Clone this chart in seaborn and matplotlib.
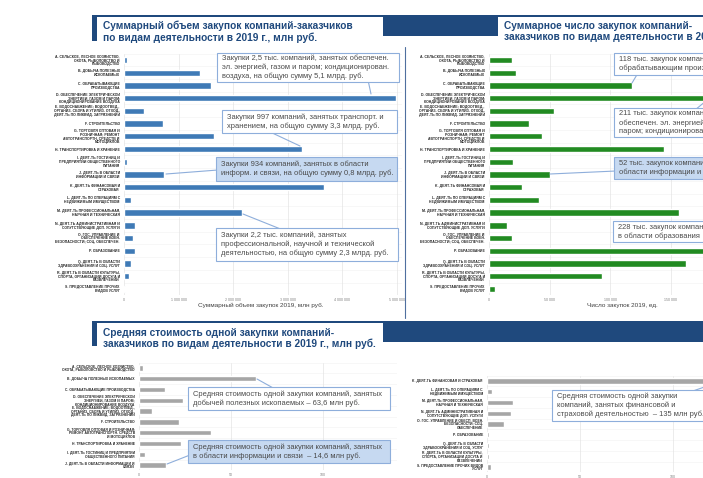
import matplotlib
matplotlib.use("Agg")
import matplotlib.pyplot as plt
import seaborn as sns
import pandas as pd
from matplotlib.patches import Rectangle
from matplotlib.lines import Line2D

# ---------------- data ----------------
codes = list("ABCDEFGHIJKLMNOPQRS")
labels_top = [
    "A. СЕЛЬСКОЕ, ЛЕСНОЕ ХОЗЯЙСТВО,\nОХОТА, РЫБОЛОВСТВО И\nРЫБОВОДСТВО",
    "B. ДОБЫЧА ПОЛЕЗНЫХ\nИСКОПАЕМЫХ",
    "C. ОБРАБАТЫВАЮЩИЕ\nПРОИЗВОДСТВА",
    "D. ОБЕСПЕЧЕНИЕ ЭЛЕКТРИЧЕСКОЙ\nЭНЕРГИЕЙ, ГАЗОМ И ПАРОМ;\nКОНДИЦИОНИРОВАНИЕ ВОЗДУХА",
    "E. ВОДОСНАБЖЕНИЕ; ВОДООТВЕД.,\nОРГАНИЗ. СБОРА И УТИЛИЗ. ОТХОД.,\nДЕЯТ-ТЬ ПО ЛИКВИД. ЗАГРЯЗНЕНИЙ",
    "F. СТРОИТЕЛЬСТВО",
    "G. ТОРГОВЛЯ ОПТОВАЯ И\nРОЗНИЧНАЯ; РЕМОНТ\nАВТОТРАНСПОРТН. СРЕДСТВ И\nМОТОЦИКЛОВ",
    "H. ТРАНСПОРТИРОВКА И ХРАНЕНИЕ",
    "I. ДЕЯТ-ТЬ ГОСТИНИЦ И\nПРЕДПРИЯТИЙ ОБЩЕСТВЕННОГО\nПИТАНИЯ",
    "J. ДЕЯТ-ТЬ В ОБЛАСТИ\nИНФОРМАЦИИ И СВЯЗИ",
    "K. ДЕЯТ-ТЬ ФИНАНСОВАЯ И\nСТРАХОВАЯ",
    "L. ДЕЯТ-ТЬ ПО ОПЕРАЦИЯМ С\nНЕДВИЖИМЫМ ИМУЩЕСТВОМ",
    "M. ДЕЯТ-ТЬ ПРОФЕССИОНАЛЬНАЯ,\nНАУЧНАЯ И ТЕХНИЧЕСКАЯ",
    "N. ДЕЯТ-ТЬ АДМИНИСТРАТИВНАЯ И\nСОПУТСТВУЮЩИЕ ДОП. УСЛУГИ",
    "O. ГОС. УПРАВЛЕНИЕ И\nОБЕСПЕЧЕНИЕ ВОЕН.\nБЕЗОПАСНОСТИ; СОЦ. ОБЕСПЕЧЕН.",
    "P. ОБРАЗОВАНИЕ",
    "Q. ДЕЯТ-ТЬ В ОБЛАСТИ\nЗДРАВООХРАНЕНИЯ И СОЦ. УСЛУГ",
    "R. ДЕЯТ-ТЬ В ОБЛАСТИ КУЛЬТУРЫ,\nСПОРТА, ОРГАНИЗАЦИИ ДОСУГА И\nРАЗВЛЕЧЕНИЙ",
    "S. ПРЕДОСТАВЛЕНИЕ ПРОЧИХ\nВИДОВ УСЛУГ",
]
labels_bottom = [
    "A. СЕЛЬСКОЕ, ЛЕСНОЕ ХОЗЯЙСТВО,\nОХОТА, РЫБОЛОВСТВО И РЫБОВОДСТВО",
    "B. ДОБЫЧА ПОЛЕЗНЫХ ИСКОПАЕМЫХ",
    "C. ОБРАБАТЫВАЮЩИЕ ПРОИЗВОДСТВА",
    "D. ОБЕСПЕЧЕНИЕ ЭЛЕКТРИЧЕСКОЙ\nЭНЕРГИЕЙ, ГАЗОМ И ПАРОМ;\nКОНДИЦИОНИРОВАНИЕ ВОЗДУХА",
    "E. ВОДОСНАБЖЕНИЕ; ВОДООТВЕД.,\nОРГАНИЗ. СБОРА И УТИЛИЗ. ОТХОД.,\nДЕЯТ-ТЬ ПО ЛИКВИД. ЗАГРЯЗНЕНИЙ",
    "F. СТРОИТЕЛЬСТВО",
    "G. ТОРГОВЛЯ ОПТОВАЯ И РОЗНИЧНАЯ;\nРЕМОНТ АВТОТРАНСПОРТН. СРЕДСТВ\nИ МОТОЦИКЛОВ",
    "H. ТРАНСПОРТИРОВКА И ХРАНЕНИЕ",
    "I. ДЕЯТ-ТЬ ГОСТИНИЦ И ПРЕДПРИЯТИЙ\nОБЩЕСТВЕННОГО ПИТАНИЯ",
    "J. ДЕЯТ-ТЬ В ОБЛАСТИ ИНФОРМАЦИИ И\nСВЯЗИ",
    "K. ДЕЯТ-ТЬ ФИНАНСОВАЯ И СТРАХОВАЯ",
    "L. ДЕЯТ-ТЬ ПО ОПЕРАЦИЯМ С\nНЕДВИЖИМЫМ ИМУЩЕСТВОМ",
    "M. ДЕЯТ-ТЬ ПРОФЕССИОНАЛЬНАЯ,\nНАУЧНАЯ И ТЕХНИЧЕСКАЯ",
    "N. ДЕЯТ-ТЬ АДМИНИСТРАТИВНАЯ И\nСОПУТСТВУЮЩИЕ ДОП. УСЛУГИ",
    "O. ГОС. УПРАВЛЕНИЕ И ОБЕСП. ВОЕН.\nБЕЗОПАСНОСТИ; СОЦ.\nОБЕСПЕЧЕНИЕ",
    "P. ОБРАЗОВАНИЕ",
    "Q. ДЕЯТ-ТЬ В ОБЛАСТИ\nЗДРАВООХРАНЕНИЯ И СОЦ. УСЛУГ",
    "R. ДЕЯТ-ТЬ В ОБЛАСТИ КУЛЬТУРЫ,\nСПОРТА, ОРГАНИЗАЦИИ ДОСУГА И\nРАЗВЛЕЧЕНИЙ",
    "S. ПРЕДОСТАВЛЕНИЕ ПРОЧИХ ВИДОВ\nУСЛУГ",
]
# Total procurement volume 2019, mln rub
volume = [50000, 1390000, 1600000, 4980000, 370000, 710000, 1640000, 3260000, 60000,
          730000, 3660000, 120000, 2160000, 200000, 170000, 210000, 130000, 90000, 20000]
# Number of procurements 2019
count = [19000, 22000, 118000, 211000, 54000, 33000, 44000, 145000, 20000,
         50000, 27000, 41000, 157000, 15000, 19000, 228000, 163000, 93000, 5000]
# Average cost of one procurement, mln rub
avg_cost = [2.3, 63.6, 14, 24, 7, 22, 39, 23, 3, 14.6,
            135, 2.7, 14, 13, 9, 1, 1, 1, 2]

vol_ticks = [0, 1000000, 2000000, 3000000, 4000000, 5000000]
vol_ticklabels = ["0", "1 000 000", "2 000 000", "3 000 000", "4 000 000", "5 000 000"]
cnt_ticks = [0, 50000, 100000, 150000]
cnt_ticklabels = ["0", "50 000", "100 000", "150 000"]
avg_ticks = [0, 50, 100]
avg_ticklabels = ["0", "50", "100"]

# ---------------- style ----------------
sns.set_style("white")
plt.rcParams["font.family"] = ["Liberation Sans", "DejaVu Sans"]

W, H = 703, 478
fig = plt.figure(figsize=(W / 100, H / 100), dpi=100)
fig.patch.set_facecolor("white")

NAVY = "#1f497d"
BLUE = "#3f7ab6"
GREEN = "#228b22"
GRAY = "#a6a6a6"
BOX_EDGE = "#8eaedb"
BOX_FILL = "#c6d9f1"
TXT = "#4a4a4a"


def add_ax(x0, x1, ytop, ybot):
    return fig.add_axes([x0 / W, 1 - ybot / H, (x1 - x0) / W, (ybot - ytop) / H])


def rect(x0, y0, x1, y1, fc, ec="none", lw=0.0, z=1):
    fig.patches.append(Rectangle((x0 / W, 1 - y1 / H), (x1 - x0) / W, (y1 - y0) / H,
                                 transform=fig.transFigure, facecolor=fc, edgecolor=ec,
                                 linewidth=lw, zorder=z))


def line(p, q, color=BOX_EDGE, lw=0.8, z=0.5):
    fig.lines.append(Line2D([p[0] / W, q[0] / W], [1 - p[1] / H, 1 - q[1] / H],
                            transform=fig.transFigure, color=color, lw=lw, zorder=z))


def ftext(x, y, s, **kw):
    fig.text(x / W, 1 - y / H, s, **kw)


def panel(ax, values, labels, color, xlim, ticks, ticklabels, xlabel=None, lab_x=0.5,
          lab_fs=2.5):
    df = pd.DataFrame({"label": labels, "value": values})
    sns.barplot(data=df, x="value", y="label", orient="h", color=color, width=0.5,
                saturation=1, ax=ax)
    ax.set_xlim(*xlim)
    ax.set_ylim(len(values) - 0.5, -0.5)
    ax.set_xticks(ticks)
    ax.set_xticklabels(ticklabels, fontsize=2.6, color="#7f7f7f")
    ax.tick_params(axis="x", length=0, pad=2)
    ax.tick_params(axis="y", length=0, pad=3)
    for t in ax.get_yticklabels():
        t.set_fontsize(lab_fs)
        t.set_fontweight("bold")
        t.set_color("#262626")
        t.set_linespacing(0.95)
    ax.set_ylabel("")
    if xlabel:
        ax.set_xlabel(xlabel, fontsize=4.6, color="#404040", labelpad=1)
        ax.xaxis.set_label_coords(lab_x, -0.03)
    else:
        ax.set_xlabel("")
    ax.grid(axis="x", color="#e4e4e4", lw=0.5)
    for s in ax.spines.values():
        s.set_visible(False)
    ax.set_axisbelow(True)
    for yy in range(len(values) + 1):
        ax.axhline(yy - 0.5, color="#f2f2f2", lw=0.4, zorder=0)


# ---------------- panels ----------------
ax1 = add_ax(124, 124 + 5.1 * 54.6, 53.6, 295.3)
panel(ax1, volume, labels_top, BLUE, (0, 5100000), vol_ticks, vol_ticklabels,
      "Суммарный объем закупок 2019, млн руб.", 0.49)

ax2 = add_ax(489, 489 + 250 * 1.21, 53.6, 295.3)
panel(ax2, count, labels_top, GREEN, (0, 250000), cnt_ticks, cnt_ticklabels,
      "Число закупок 2019, ед.", 0.44)

ax3 = add_ax(139, 139 + 140 * 1.84, 362.6, 470.4)
panel(ax3, avg_cost[:10], labels_bottom[:10], GRAY, (0, 140), avg_ticks,
      avg_ticklabels, lab_fs=2.4)

ax4 = add_ax(487, 487 + 140 * 1.86, 375.6, 472.4)
panel(ax4, avg_cost[10:], labels_bottom[10:], GRAY, (0, 140), avg_ticks,
      avg_ticklabels, lab_fs=2.4)

# ---------------- banners ----------------
TITLE_KW = dict(fontsize=7.3, fontweight="bold", color=NAVY, va="center", ha="left",
                linespacing=1.12, zorder=3)
# top band
rect(92, 15, 703, 36, NAVY)
rect(92, 15, 97, 41, NAVY)
rect(97, 17, 383, 45, "white")
rect(498, 17, 703, 45, "white")
ftext(103, 31.5, "Суммарный объем закупок компаний-заказчиков\nпо видам деятельности в 2019 г., млн руб.", **TITLE_KW)
ftext(504, 31.5, "Суммарное число закупок компаний-\nзаказчиков по видам деятельности в 2019 г., ед.", **TITLE_KW)
# bottom band
rect(92, 321, 703, 342, NAVY)
rect(92, 321, 97, 346, NAVY)
rect(97, 323, 383, 352, "white")
ftext(103, 338.5, "Средняя стоимость одной закупки компаний-\nзаказчиков по видам деятельности в 2019 г., млн руб.", **TITLE_KW)

# separator
line((405, 47), (405, 318), color="#4f6f9f", lw=0.8, z=2)

# ---------------- callouts ----------------
NOTE_KW = dict(fontsize=5.45, color=TXT, va="center", ha="left", linespacing=1.3, zorder=3)


def callout(x0, y0, x1, y1, text, filled=False, tail=None):
    if tail is not None:
        line(tail[0], tail[1])
    rect(x0, y0, x1, y1, BOX_FILL if filled else "white", ec=BOX_EDGE, lw=0.8, z=1)
    ftext(x0 + 5, (y0 + y1) / 2, text, **NOTE_KW)


callout(217, 53, 399, 82,
        "Закупки 2,5 тыс. компаний, занятых обеспечен.\nэл. энергией, газом и паром; кондиционирован.\nвоздуха, на общую сумму 5,1 млрд. руб.",
        tail=((368, 80), (371, 94)))
callout(222, 110, 397, 133,
        "Закупки 997 компаний, занятых транспорт. и\nхранением, на общую сумму 3,3 млрд. руб.",
        tail=((268, 131), (300, 146)))
callout(216, 157, 397, 181,
        "Закупки 934 компаний, занятых в области\nинформ. и связи, на общую сумму 0,8 млрд. руб.",
        filled=True, tail=((166, 174), (218, 170)))
callout(216, 228, 398, 261,
        "Закупки 2,2 тыс. компаний, занятых\nпрофессиональной, научной и технической\nдеятельностью, на общую сумму 2,3 млрд. руб.",
        tail=((243, 214), (283, 230)))

callout(614, 53, 730, 75,
        "118 тыс. закупок компаний, занятых\nобрабатывающим производством",
        tail=((638, 73), (632, 83)))
callout(614, 108, 730, 137,
        "211 тыс. закупок компаний, занятых\nобеспечен. эл. энергией, газом и\nпаром; кондиционированием воздуха",
        tail=((695, 110), (712, 96)))
callout(614, 157, 730, 179,
        "52 тыс. закупок компаний, занятых в\nобласти информации и связи",
        filled=True, tail=((550, 174), (616, 171)))
callout(613, 221, 730, 242,
        "228 тыс. закупок компаний, занятых\nв области образования")

callout(188, 387, 390, 410,
        "Средняя стоимость одной закупки компаний, занятых\nдобычей полезных ископаемых – 63,6 млн руб.",
        tail=((257, 379), (275, 389)))
callout(188, 440, 390, 463,
        "Средняя стоимость одной закупки компаний, занятых\nв области информации и связи  – 14,6 млн руб.",
        filled=True, tail=((167, 464), (190, 455)))
callout(552, 390, 730, 421,
        "Средняя стоимость одной закупки\nкомпаний, занятых финансовой и\nстраховой деятельностью  – 135 млн руб.",
        tail=((690, 392), (716, 383)))

fig.savefig("out.png", dpi=100)
